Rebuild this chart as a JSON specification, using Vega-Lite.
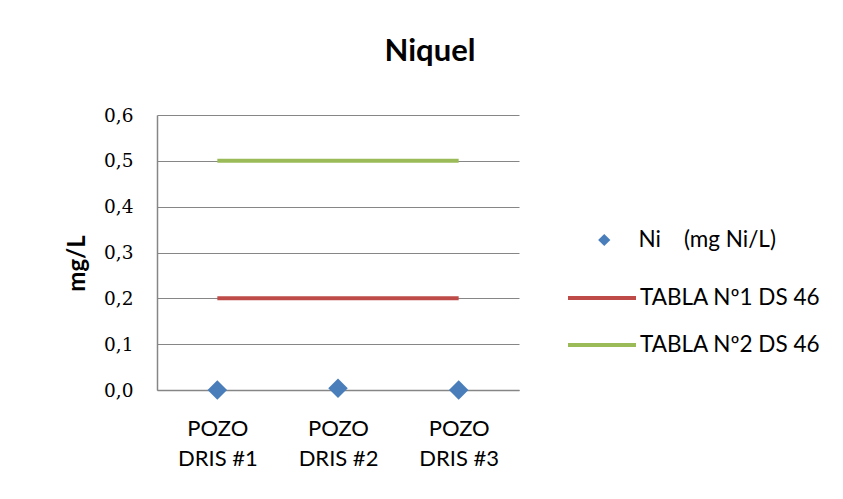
{
  "$schema": "https://vega.github.io/schema/vega-lite/v6.json",
  "autosize": "none",
  "width": 362,
  "height": 275,
  "padding": {"left": 157, "top": 115, "right": 324, "bottom": 109},
  "background": "white",
  "title": {"text": "Niquel", "font": "Lato", "fontSize": 31, "fontWeight": "bold", "color": "black", "anchor": "middle", "dx": 92, "offset": 38},
  "datasets": {
    "tablas": [
      {"pozo": "POZO DRIS #1", "serie": "TABLA Nº1 DS 46", "valor": 0.2},
      {"pozo": "POZO DRIS #2", "serie": "TABLA Nº1 DS 46", "valor": 0.2},
      {"pozo": "POZO DRIS #3", "serie": "TABLA Nº1 DS 46", "valor": 0.2},
      {"pozo": "POZO DRIS #1", "serie": "TABLA Nº2 DS 46", "valor": 0.5},
      {"pozo": "POZO DRIS #2", "serie": "TABLA Nº2 DS 46", "valor": 0.5},
      {"pozo": "POZO DRIS #3", "serie": "TABLA Nº2 DS 46", "valor": 0.5}
    ],
    "ni": [
      {"pozo": "POZO DRIS #1", "serie": "Ni\u00a0\u00a0\u00a0\u00a0(mg\u00a0Ni/L)", "valor": 0.0},
      {"pozo": "POZO DRIS #2", "serie": "Ni\u00a0\u00a0\u00a0\u00a0(mg\u00a0Ni/L)", "valor": 0.004},
      {"pozo": "POZO DRIS #3", "serie": "Ni\u00a0\u00a0\u00a0\u00a0(mg\u00a0Ni/L)", "valor": 0.0}
    ]
  },
  "encoding": {
    "x": {
      "field": "pozo", "type": "nominal",
      "scale": {"type": "point", "padding": 0.5},
      "axis": {
        "title": null, "labelAngle": 0, "ticks": false, "grid": false,
        "domainColor": "#868686", "domainWidth": 1.5,
        "labelFont": "Lato", "labelFontSize": 22, "labelColor": "black",
        "labelLineHeight": 30, "labelPadding": 28,
        "labelExpr": "['POZO', slice(datum.label, 5)]"
      }
    },
    "y": {
      "field": "valor", "type": "quantitative",
      "scale": {"domain": [0, 0.6], "nice": false, "zero": true},
      "axis": {
        "title": "mg/L", "titleFont": "Lato", "titleFontSize": 24, "titleFontWeight": "bold", "titleColor": "black", "titlePadding": 14, "titleY": 148,
        "values": [0, 0.1, 0.2, 0.3, 0.4, 0.5, 0.6],
        "ticks": false, "labelPadding": 24,
        "labelFont": "DejaVu Serif", "labelFontSize": 18.5, "labelColor": "black",
        "labelExpr": "replace(format(datum.value, '.1f'), '.', ',')",
        "domainColor": "#868686", "domainWidth": 1.5,
        "gridColor": "#868686", "gridWidth": 1.2
      }
    }
  },
  "layer": [
    {
      "data": {"name": "tablas"},
      "mark": {"type": "line", "strokeWidth": 4},
      "encoding": {
        "stroke": {
          "field": "serie", "type": "nominal",
          "scale": {"domain": ["TABLA Nº1 DS 46", "TABLA Nº2 DS 46"], "range": ["#BE4B48", "#9BBB59"]},
          "legend": {
            "orient": "none", "legendX": 409, "legendY": 173, "title": null, "padding": 0,
            "symbolType": "stroke", "symbolSize": 4624, "symbolStrokeWidth": 4,
            "labelOffset": 2, "clipHeight": 20, "rowPadding": 24,
            "labelFont": "Lato", "labelFontSize": 22.5, "labelColor": "black", "labelLimit": 400
          }
        }
      }
    },
    {
      "data": {"name": "ni"},
      "mark": {"type": "point", "shape": "diamond", "filled": true, "opacity": 1, "size": 380},
      "encoding": {
        "color": {
          "field": "serie", "type": "nominal",
          "scale": {"range": ["#4A7EBB"]},
          "legend": {
            "orient": "none", "legendX": 436, "legendY": 115, "title": null, "padding": 0,
            "symbolType": "diamond", "symbolSize": 150, "symbolOpacity": 1,
            "labelOffset": 23, "clipHeight": 20,
            "labelFont": "Lato", "labelFontSize": 22.5, "labelColor": "black", "labelLimit": 400
          }
        }
      }
    }
  ],
  "config": {
    "view": {"stroke": null},
    "font": "Lato"
  }
}
